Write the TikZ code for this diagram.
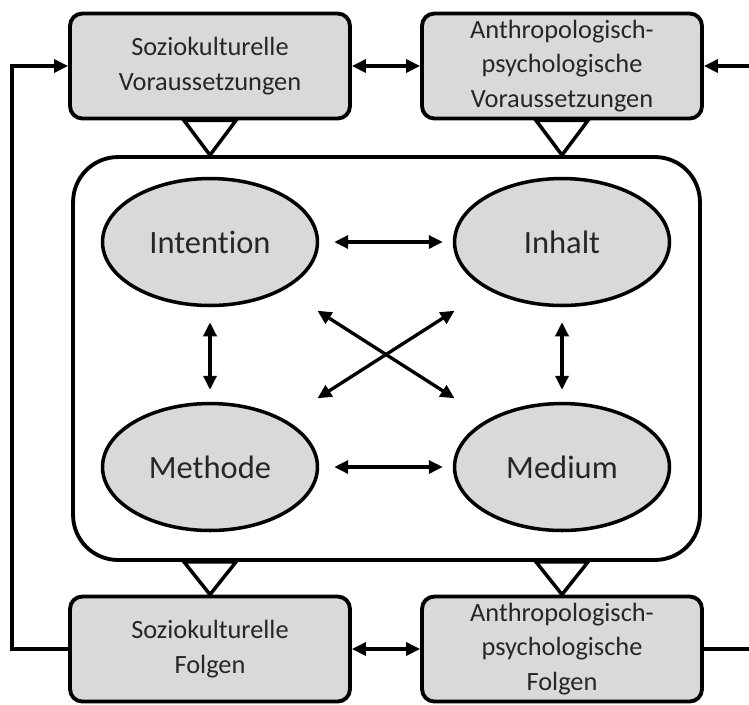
\documentclass[tikz,border=0pt]{standalone}
\usepackage{fontspec}
\setmainfont[Ligatures=NoCommon]{Carlito}
\usepackage{tikz}
\usetikzlibrary{arrows.meta, positioning, shapes.geometric, calc}
\definecolor{boxgrey}{HTML}{D9D9D9}
\definecolor{inkgrey}{HTML}{262626}

\begin{document}
\begin{tikzpicture}[
  x=0.02cm, y=-0.02cm,
  font=\fontsize{15}{19.5}\selectfont, text=inkgrey,
  lbl/.style={rectangle, rounded corners=7pt, draw, line width=2.2pt,
              fill=boxgrey, align=center, minimum width=5.6cm,
              minimum height=2.1cm, inner sep=1mm},
  fac/.style={ellipse, draw, line width=2pt, fill=boxgrey,
              minimum width=4.3cm, minimum height=2.54cm,
              font=\fontsize{18.5}{22}\selectfont},
  tri/.style={draw, line width=2pt, fill=white, line join=miter},
  ar/.style={-{Triangle[length=2.8mm,width=2.6mm]}, line width=1.9pt},
  dar/.style={{Triangle[length=2.8mm,width=2.6mm]}-{Triangle[length=2.8mm,width=2.6mm]},
              line width=1.9pt}]
\useasboundingbox (0,0) rectangle (749,704);
\node[draw, line width=2.2pt, rounded corners=0.9cm, minimum width=12.54cm,
      minimum height=8.06cm] (frame) at (386.5,358.5) {};
\node[lbl] (sv) at (210,66) {Soziokulturelle\\Voraussetzungen};
\node[lbl] (apv) at (562,66) {Anthropologisch-\\psychologische\\Voraussetzungen};
\node[lbl] (sf) at (210,649) {Soziokulturelle\\Folgen};
\node[lbl] (apf) at (562,649) {Anthropologisch-\\psychologische\\Folgen};
\node[fac] (int) at (210,242) {Intention};
\node[fac] (inh) at (562,242) {Inhalt};
\node[fac] (met) at (210,467) {Methode};
\node[fac] (med) at (562,467) {Medium};
% triangles into and out of the frame
\foreach \bx in {sv,apv}
  \draw[tri] ($(\bx.south)+(-26,0)$) -- (\bx.south |- frame.north)
             -- ($(\bx.south)+(26,0)$) -- cycle;
\foreach \bx in {sf,apf}
  \draw[tri] ($(frame.south -| \bx.north)+(-26,0)$) -- (\bx.north)
             -- ($(frame.south -| \bx.north)+(26,0)$) -- cycle;
% relations inside
\draw[dar, shorten <=0.3cm, shorten >=0.2cm] (int) -- (inh);
\draw[dar, shorten <=0.3cm, shorten >=0.2cm] (met) -- (med);
\draw[dar, shorten <=0.3cm, shorten >=0.24cm] (int) -- (met);
\draw[dar, shorten <=0.3cm, shorten >=0.24cm] (inh) -- (med);
\draw[dar, shorten <=0.78cm, shorten >=0.78cm] (int) -- (med);
\draw[dar, shorten <=0.78cm, shorten >=0.78cm] (inh) -- (met);
% links between the outer boxes
\coordinate (lft) at (12,0);
\coordinate (rgt) at (749,0);
\draw[dar] (sv) -- (apv);
\draw[dar] (sf) -- (apf);
\draw[ar] (sf.west) -- (sf.west -| lft) |- (sv.west);
\draw[line width=1.9pt] (apf.east) -- (apf.east -| rgt);
\draw[ar] (apv.east -| rgt) -- (apv.east);
\end{tikzpicture}
\end{document}
